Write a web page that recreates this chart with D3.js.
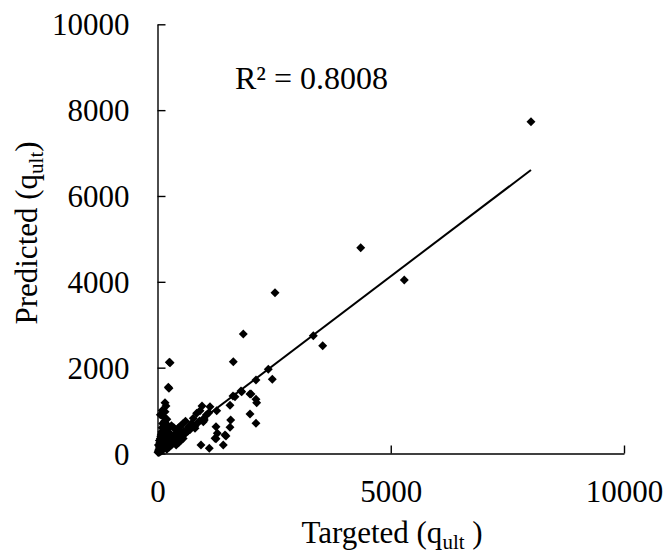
<!DOCTYPE html>
<html><head><meta charset="utf-8"><script src="https://cdn.jsdelivr.net/npm/d3@7"></script></head>
<body style="margin:0">
<svg id="chart" width="667" height="558"></svg>
<script>
// ---- data ----
const targeted = [
  8006, 4356, 5290, 2519, 1839, 3340, 3541, 1625, 253, 246, 161, 182, 232, 161, 161, 270,
  2375, 2461, 2111, 1790, 2004, 2111, 2126, 1618, 1554, 1983, 2111, 1569, 1554, 1254, 1282,
  1468, 1254, 1410, 932, 1110, 954, 1125, 1269, 911, 767, 1003, 804, 660, 840, 733, 1233,
  1447, 982, 1661, 1805, 1983,
  600, 700, 800, 850, 900, 1000, 1050, 1100, 750, 650,
  30, 50, 60, 80, 100, 120, 150, 40, 70, 90, 110, 130, 160, 180, 200, 220, 250, 280, 300, 320,
  350, 380, 400, 420, 450, 480, 500, 530, 560, 600, 650, 700, 150, 120, 100, 140, 180, 200,
  240, 260, 60, 80, 50, 30, 20, 10, 130, 170, 210, 300, 350, 250, 200, 400, 450, 500, 550,
  150, 200, 300, 350, 400, 450, 500, 550, 600, 20, 40, 70, 90, 110, 140, 60, 100
];
const predicted = [
  7731, 4795, 4042, 3747, 2784, 2745, 2512, 2139, 2125, 1519, 1184, 1107, 1542, 974, 820, 2114,
  1962, 1729, 1712, 1456, 1386, 1263, 1184, 1340, 1123, 920, 704, 780, 610, 624, 470,
  408, 345, 198, 198, 121, 1107, 1090, 997, 997, 820, 780, 587, 610, 937, 704, 354,
  431, 741, 1323, 1440, 1386,
  480, 560, 640, 700, 760, 830, 900, 950, 620, 520,
  20, 40, 80, 60, 120, 90, 150, 150, 200, 260, 300, 220, 180, 250, 320, 280, 350, 300, 400, 360,
  420, 380, 300, 450, 400, 500, 420, 480, 520, 470, 540, 600, 400, 500, 600, 650, 700, 550,
  600, 480, 350, 450, 250, 100, 60, 30, 350, 420, 450, 200, 250, 150, 100, 200, 250, 300, 350,
  750, 800, 650, 600, 550, 600, 650, 700, 750, 200, 300, 400, 500, 700, 850, 900, 1000
];
const xTicks = [0, 5000, 10000];
const yTicks = [0, 2000, 4000, 6000, 8000, 10000];
const trendSlope = 0.824;
const trendIntercept = 9;
const rSquaredLabel = "R² = 0.8008";

// ---- layout ----
const svg = d3.select("#chart");
const FONT = 31;
function serif(sel, size) {
  return sel.attr("font-size", size).style("font-family", "Liberation Serif").attr("fill", "#000");
}
const x = d3.scaleLinear().domain([0, 10000]).range([157.5, 624]);
const y = d3.scaleLinear().domain([0, 10000]).range([453.5, 24.3]);

const xAxis = d3.axisBottom(x).tickValues(xTicks).tickSize(-8).tickSizeOuter(0)
  .tickFormat(d3.format("d"));
const yAxis = d3.axisLeft(y).tickValues(yTicks).tickSize(-8).tickSizeOuter(0)
  .tickFormat(d3.format("d"));

const gx = svg.append("g").attr("transform", `translate(0,${y(0)})`).call(xAxis);
const gy = svg.append("g").attr("transform", `translate(${x(0)},0)`).call(yAxis);

[gx, gy].forEach(g => {
  g.attr("font-family", null).attr("font-size", null);
  g.select(".domain").attr("stroke", "#000").attr("stroke-width", 1.4);
  g.selectAll(".tick line").attr("stroke", "#000").attr("stroke-width", 1.4);
  serif(g.selectAll("text"), FONT);
});
gx.selectAll(".tick text").attr("y", 26).attr("dy", "0.71em");
gy.selectAll(".tick text").attr("x", -28).attr("dy", "0.34em");

// linear trendline across the data's x range
const xMin = d3.min(targeted), xMax = d3.max(targeted);
svg.append("line")
  .attr("x1", x(xMin)).attr("y1", y(trendSlope * xMin + trendIntercept))
  .attr("x2", x(xMax)).attr("y2", y(trendSlope * xMax + trendIntercept))
  .attr("stroke", "#000").attr("stroke-width", 2);

// diamond markers
const pts = targeted.map((t, i) => ({ t, p: predicted[i] }));
const diamond = d3.symbol().type(d3.symbolSquare).size(40);
svg.append("g").selectAll("path").data(pts).join("path")
  .attr("d", diamond)
  .attr("transform", d => `translate(${x(d.t)},${y(d.p)}) rotate(45)`)
  .attr("fill", "#000");

serif(svg.append("text"), 32).attr("x", 235).attr("y", 89).text(rSquaredLabel);

const xt = serif(svg.append("text"), FONT).attr("x", 392).attr("y", 543).attr("text-anchor", "middle");
xt.append("tspan").text("Targeted (q");
xt.append("tspan").attr("font-size", 21).attr("dy", 6).text("ult");
xt.append("tspan").attr("dy", -6).text(" )");

const yt = serif(svg.append("text"), FONT).attr("transform", "translate(37,233) rotate(-90)")
  .attr("text-anchor", "middle");
yt.append("tspan").text("Predicted (q");
yt.append("tspan").attr("font-size", 21).attr("dy", 6).text("ult");
yt.append("tspan").attr("dy", -6).text(")");
</script>
</body>
</html>
